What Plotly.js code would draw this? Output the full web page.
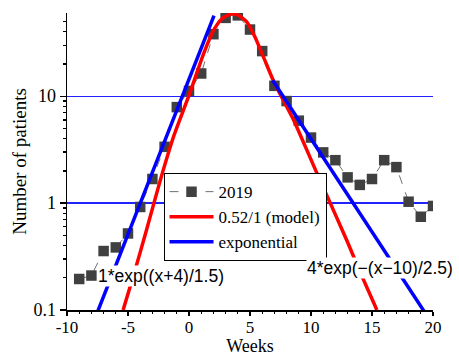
<!DOCTYPE html>
<html>
<head>
<meta charset="utf-8">
<script src="https://cdn.plot.ly/plotly-3.0.1.min.js"></script>
<style>html,body{margin:0;padding:0;background:#fff;}#chart{width:459px;height:356px;}</style>
</head>
<body>
<div id="chart"></div>
<script>
// Observed weekly patient counts (2019)
const weeks = [-9,-8,-7,-6,-5,-4,-3,-2,-1,0,1,2,3,4,5,6,7,8,9,10,11,12,13,14,15,16,17,18,19,20];
const patients2019 = [0.195,0.21,0.356,0.385,0.52,0.92,1.68,3.36,7.9,11.2,16.3,38,54,57,42,26.4,12.5,9.0,5.9,4.1,2.98,2.52,1.74,1.48,1.68,2.52,2.17,1.03,0.745,0.94];

// Model curve (0.52/1)
const modelX = [-5.4,-4.5,-3.5,-2.35,-1.2,-0.04,0.6,1.2,2.0,2.7,3.4,4.0,4.7,5.4,6.1,6.9,7.7,8.6,10,11,12,13,14,15.4];
const modelY = [0.1,0.22,0.55,1.64,4.4,9.9,16,25,41,53,58.5,57.5,50,36,23.3,14.1,9.3,5.9,2.55,1.4,0.78,0.43,0.23,0.1];

// Exponential guide lines (end points of the two straight segments)
const expX = [-7.5,2.05,null,6.85,19.25];
const expY = [0.096,56.6,null,14.1,0.098];

// Tick labels
const xTickVals = [-10,-5,0,5,10,15,20];
const xTickText = ["-10","-5","0","5","10","15","20"];
const yTickVals = [0.1,1,10];
const yTickText = ["0.1","1","10"];
const yMinorVals = [0.2,0.3,0.4,0.5,0.6,0.7,0.8,0.9,2,3,4,5,6,7,8,9,20,30,40,50];

const serif = "Liberation Serif, Times New Roman, serif";
const sans = "Liberation Sans, Arial, sans-serif";

const traces = [
  {x: weeks, y: patients2019, name: "2019", type: "scatter", mode: "lines+markers",
   line: {color: "#707070", width: 1, dash: "dash"},
   marker: {symbol: "square", size: 10.5, color: "#404040"}},
  {x: modelX, y: modelY, name: "0.52/1 (model)", type: "scatter", mode: "lines",
   line: {color: "#ff0000", width: 3.5, shape: "spline", smoothing: 0.6}},
  {x: expX, y: expY, name: "exponential", type: "scatter", mode: "lines",
   line: {color: "#0000ff", width: 3.5}, connectgaps: false}
];

const layout = {
  width: 459, height: 356,
  margin: {l: 67, r: 26, t: 13, b: 46},
  paper_bgcolor: "#ffffff", plot_bgcolor: "#ffffff",
  showlegend: true,
  font: {family: serif, color: "#000"},
  xaxis: {
    range: [-10, 20], tickmode: "array", tickvals: xTickVals, ticktext: xTickText,
    showgrid: false, zeroline: false, showline: true, linecolor: "#000", linewidth: 1.5,
    ticks: "outside", ticklen: 4, tickcolor: "#000", tickwidth: 1.2,
    ticklabelstandoff: -3,
    tickfont: {family: serif, size: 17, color: "#000"},
    minor: {dtick: 1, tick0: 0, ticks: "outside", ticklen: 2.5, tickcolor: "#000", showgrid: false},
    title: {text: "Weeks", font: {family: serif, size: 18, color: "#000"}, standoff: 0}
  },
  yaxis: {
    type: "log", range: [-1, 1.778], tickmode: "array", tickvals: yTickVals, ticktext: yTickText,
    showgrid: true, gridcolor: "#2222ff", gridwidth: 1.2, zeroline: false,
    showline: true, linecolor: "#000", linewidth: 1.5,
    ticks: "outside", ticklen: 6, tickcolor: "#000", tickwidth: 1.2,
    tickfont: {family: serif, size: 18, color: "#000"},
    minor: {tickmode: "array", tickvals: yMinorVals, ticks: "outside", ticklen: 3, tickcolor: "#000", showgrid: false},
    title: {text: "Number of patients", font: {family: serif, size: 19, color: "#000"}, standoff: 2}
  },
  legend: {
    x: 0.2637, y: 0.461, xanchor: "left", yanchor: "top",
    bgcolor: "#ffffff", bordercolor: "#000", borderwidth: 1,
    font: {family: serif, size: 17, color: "#000"},
    itemwidth: 44, tracegroupgap: 0
  },
  annotations: [
    {x: -7.52, y: -0.682, xref: "x", yref: "y", text: "1*exp((x+4)/1.5)", showarrow: false,
     xanchor: "left", yanchor: "middle", bgcolor: "#ffffff", borderpad: 0,
     font: {family: sans, size: 17.5, color: "#000"}},
    {x: 9.6, y: -0.607, xref: "x", yref: "y", text: "4*exp(−(x−10)/2.5)", showarrow: false,
     xanchor: "left", yanchor: "middle", bgcolor: "#ffffff", borderpad: 0,
     font: {family: sans, size: 17.5, color: "#000"}}
  ]
};

Plotly.newPlot("chart", traces, layout, {displayModeBar: false, staticPlot: true});
</script>
</body>
</html>
